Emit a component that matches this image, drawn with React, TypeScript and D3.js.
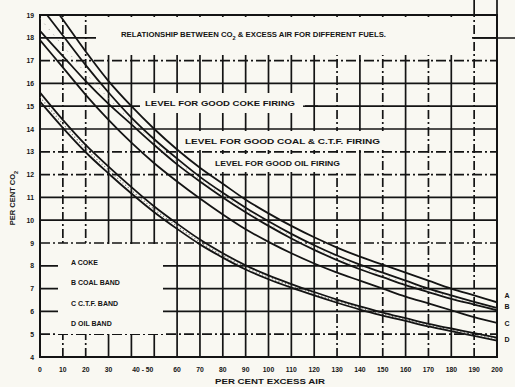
import React, { useEffect, useRef } from 'react';
import * as d3 from 'd3';

// excess air (%) sampled every 10
const excessAir = [0, 10, 20, 30, 40, 50, 60, 70, 80, 90, 100, 110, 120, 130, 140, 150, 160, 170, 180, 190, 200];

// CO2 %
const cokeA = [20.2, 18.8, 17.4, 16.1, 15.0, 14.0, 13.1, 12.3, 11.6, 10.9, 10.3, 9.75, 9.25, 8.8, 8.4, 8.05, 7.7, 7.35, 7.0, 6.7, 6.4];
const coalB1 = [19.4, 18.1, 16.8, 15.6, 14.5, 13.55, 12.7, 11.9, 11.2, 10.55, 9.95, 9.4, 8.9, 8.45, 8.05, 7.7, 7.35, 7.0, 6.7, 6.42, 6.15];
const coalB2 = [18.3, 17.2, 16.1, 15.1, 14.2, 13.3, 12.45, 11.7, 11.0, 10.35, 9.75, 9.2, 8.7, 8.25, 7.85, 7.5, 7.15, 6.85, 6.55, 6.3, 6.05];
const ctfC = [17.9, 16.7, 15.5, 14.4, 13.4, 12.5, 11.7, 10.95, 10.25, 9.6, 9.05, 8.55, 8.1, 7.7, 7.35, 7.0, 6.65, 6.35, 6.05, 5.75, 5.5];
const oilD1 = [15.6, 14.4, 13.3, 12.35, 11.45, 10.6, 9.85, 9.15, 8.55, 8.02, 7.58, 7.2, 6.85, 6.52, 6.22, 5.95, 5.7, 5.45, 5.25, 5.05, 4.85];
const oilD2 = [15.2, 14.05, 12.98, 12.05, 11.17, 10.35, 9.62, 8.94, 8.36, 7.84, 7.41, 7.04, 6.7, 6.38, 6.08, 5.82, 5.58, 5.34, 5.13, 4.93, 4.72];

const xTickValues = [0, 10, 20, 30, 45, 60, 70, 80, 90, 100, 110, 120, 130, 140, 150, 160, 170, 180, 190, 200];
const xTickLabels = ['0', '10', '20', '30', '40 - 50', '60', '70', '80', '90', '100', '110', '120', '130', '140', '150', '160', '170', '180', '190', '200'];
const yTickValues = [4, 5, 6, 7, 8, 9, 10, 11, 12, 13, 14, 15, 16, 17, 18, 19];

const xGridSolid = [30, 40, 50, 60, 70, 80, 90, 100, 110, 120, 140, 160, 180];
const xGridDashed = [10, 20, 130, 150, 170, 190];
const yGridSolid = [6, 7, 8, 10, 11, 14, 15, 16, 18];
const yGridDashed = [5, 9, 12, 13, 17];

const legendItems = ['A  COKE', 'B  COAL  BAND', 'C  C.T.F.  BAND', 'D  OIL  BAND'];
const endLabels = ['A', 'B', 'C', 'D'];

const App = () => {
  const svgRef = useRef(null);

  useEffect(() => {
    const width = 515;
    const height = 387;
    const bg = '#f9f8f2';
    const ink = '#141414';
    const font = '"Liberation Sans", Arial, sans-serif';

    const svg = d3.select(svgRef.current);
    svg.selectAll('*').remove();
    svg.attr('width', width).attr('height', height);

    svg.append('rect').attr('width', width).attr('height', height).attr('fill', bg);

    const x = d3.scaleLinear().domain([0, 200]).range([40, 497]);
    const y = d3.scaleLinear().domain([4, 19]).range([357, 15]);

    // grid
    const grid = svg.append('g').attr('stroke', ink).attr('stroke-width', 1.7);
    xGridSolid.forEach(v => {
      grid.append('line').attr('x1', x(v)).attr('x2', x(v)).attr('y1', y(4)).attr('y2', y(19));
    });
    xGridDashed.forEach(v => {
      grid.append('line').attr('x1', x(v)).attr('x2', x(v)).attr('y1', y(4)).attr('y2', y(19))
        .attr('stroke-dasharray', '9,3,2,3');
    });
    yGridSolid.forEach(v => {
      grid.append('line').attr('x1', x(0)).attr('x2', x(200)).attr('y1', y(v)).attr('y2', y(v));
    });
    yGridDashed.forEach(v => {
      grid.append('line').attr('x1', x(0)).attr('x2', x(200)).attr('y1', y(v)).attr('y2', y(v))
        .attr('stroke-dasharray', '10,3,2,3');
    });
    // verticals running past the top on the right
    [190, 200].forEach(v => {
      grid.append('line').attr('x1', x(v)).attr('x2', x(v)).attr('y1', y(19)).attr('y2', 0);
    });
    grid.append('line').attr('x1', x(190)).attr('x2', width).attr('y1', 38).attr('y2', 38);

    // cleared label areas, like on the scan
    const clear = (x0, y0, w, h) => svg.append('rect').attr('x', x0).attr('y', y0).attr('width', w).attr('height', h).attr('fill', bg);
    clear(96, 17, 376, 38);
    clear(58, 244, 105, 90);
    clear(140, 93, 165, 20);
    clear(180, 131, 210, 19);
    clear(210, 154, 138, 18);

    // frame
    svg.append('rect').attr('x', x(0)).attr('y', y(19)).attr('width', x(200) - x(0)).attr('height', y(4) - y(19))
      .attr('fill', 'none').attr('stroke', ink).attr('stroke-width', 2);

    // curves
    svg.append('clipPath').attr('id', 'plotClip').append('rect')
      .attr('x', x(0)).attr('y', y(19)).attr('width', x(200) - x(0)).attr('height', y(4) - y(19));

    const line = d3.line().x(d => x(d[0])).y(d => y(d[1])).curve(d3.curveMonotoneX);
    const curves = svg.append('g').attr('clip-path', 'url(#plotClip)');

    const series = [cokeA, coalB1, coalB2, ctfC, oilD1, oilD2];
    // stipple in bands
    const mid = (a, b) => excessAir.map((v, i) => [v, (a[i] + b[i]) / 2]);
    curves.append('path').datum(mid(oilD1, oilD2)).attr('fill', 'none').attr('stroke', '#666')
      .attr('stroke-width', 1.2).attr('stroke-dasharray', '1,2.5').attr('d', line);
    curves.append('path').datum(mid(coalB1, coalB2)).attr('fill', 'none').attr('stroke', '#999')
      .attr('stroke-width', 1).attr('stroke-dasharray', '1,6').attr('d', line);

    series.forEach(s => {
      curves.append('path').datum(excessAir.map((v, i) => [v, s[i]]))
        .attr('fill', 'none').attr('stroke', ink).attr('stroke-width', 1.8).attr('d', line);
    });

    const txt = (t, tx, ty, size = 7, anchor = 'start', len = null) => {
      const el = svg.append('text').attr('x', tx).attr('y', ty).attr('font-family', font)
        .attr('font-size', size).attr('font-weight', 'bold').attr('fill', ink)
        .attr('text-anchor', anchor).text(t);
      if (len) el.attr('textLength', len).attr('lengthAdjust', 'spacingAndGlyphs');
      return el;
    };

    // title
    const title = svg.append('text').attr('x', 121).attr('y', 37).attr('font-family', font)
      .attr('font-size', 7).attr('font-weight', 'bold').attr('fill', ink)
      .attr('textLength', 265).attr('lengthAdjust', 'spacingAndGlyphs');
    title.append('tspan').text('RELATIONSHIP BETWEEN CO');
    title.append('tspan').attr('dy', 3).attr('font-size', 5).text('2');
    title.append('tspan').attr('dy', -3).text(' & EXCESS AIR FOR DIFFERENT FUELS.');

    txt('LEVEL FOR GOOD COKE FIRING', 145, 106, 7, 'start', 150);
    svg.append('line').attr('x1', 303).attr('x2', 318).attr('y1', y(15)).attr('y2', y(15))
      .attr('stroke', ink).attr('stroke-width', 1.5);
    txt('LEVEL FOR GOOD COAL & C.T.F. FIRING', 185, 144, 7, 'start', 195);
    txt('LEVEL FOR GOOD OIL FIRING', 215, 166, 7, 'start', 125);

    legendItems.forEach((t, i) => {
      txt(t, 71, 265 + i * 20.3, 7);
    });

    // right-end labels
    const endY = [298, 309, 326, 342];
    endLabels.forEach((t, i) => txt(t, 507, endY[i], 7, 'middle'));

    // ticks
    xTickValues.forEach((v, i) => txt(xTickLabels[i], x(v), 372, 6.8, 'middle'));
    yTickValues.forEach(v => txt(String(v), 34, y(v) + 2.5, 6.8, 'end'));

    txt('PER CENT EXCESS AIR', 270, 384, 7.5, 'middle', 110);
    const yt = svg.append('text').attr('transform', 'translate(15,198) rotate(-90)')
      .attr('text-anchor', 'middle').attr('font-family', font).attr('font-size', 7.5)
      .attr('font-weight', 'bold').attr('fill', ink);
    yt.append('tspan').text('PER CENT CO');
    yt.append('tspan').attr('dy', 3).attr('font-size', 5.5).text('2');
  }, []);

  return <svg ref={svgRef} style={{ position: 'fixed', left: 0, top: 0 }} />;
};

export default App;
